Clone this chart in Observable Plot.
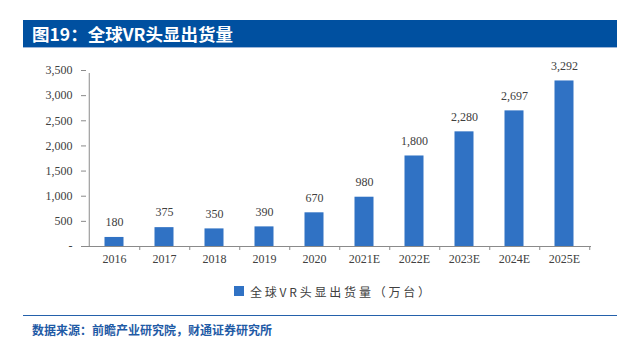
<!DOCTYPE html>
<html>
<head>
<meta charset="utf-8">
<script src="https://cdn.jsdelivr.net/npm/d3@7"></script>
<script src="https://cdn.jsdelivr.net/npm/@observablehq/plot@0.6"></script>
<style>
  html, body { margin: 0; padding: 0; background: #fff; }
  body { width: 627px; height: 352px; position: relative; overflow: hidden; }
  #title {
    position: absolute; left: 23px; top: 20px; width: 594px; height: 27px;
    background: #0050A0; border-bottom: 1px solid #9DB6D8;
    color: #fff; font: bold 17.5px "Noto Sans CJK SC", sans-serif;
    line-height: 27px; box-sizing: content-box;
  }
  #title span { position: absolute; left: 9px; top: 0; }
  #chart { position: absolute; left: 0; top: 55px; }
  #legend {
    position: absolute; left: 234px; top: 283px; height: 16px;
    font: 12px "Noto Sans CJK SC", sans-serif; color: #404040; letter-spacing: 2.8px;
    display: flex; align-items: center; white-space: nowrap;
  }
  #legend .sw { width: 10px; height: 10px; background: #3072C4; margin-right: 6px; }
  #rule { position: absolute; left: 23px; top: 315px; width: 594px; height: 0; border-top: 1.5px solid #2461AB; }
  #source {
    position: absolute; left: 32px; top: 322px;
    font: bold 12px "Noto Sans CJK SC", sans-serif; color: #1F5BA6; line-height: 16px; white-space: nowrap;
  }
</style>
</head>
<body>
<div id="title"><span>图19：全球VR头显出货量</span></div>
<div id="chart"></div>
<div id="legend"><div class="sw"></div><span>全球VR头显出货量（万台）</span></div>
<div id="rule"></div>
<div id="source">数据来源：前瞻产业研究院，财通证券研究所</div>
<script>
const categories = ["2016", "2017", "2018", "2019", "2020", "2021E", "2022E", "2023E", "2024E", "2025E"];
const shipments = [180, 375, 350, 390, 670, 980, 1800, 2280, 2697, 3292];
const yTicks = [0, 500, 1000, 1500, 2000, 2500, 3000, 3500];

const data = categories.map((c, i) => ({year: c, value: shipments[i]}));

const width = 627, height = 220;
const marginLeft = 86, marginRight = 36, marginTop = 15, marginBottom = 29;
const bw = (width - marginLeft - marginRight) / categories.length;
const barW = 19.5;
const inset = (bw - barW) / 2;
const fmt = d3.format(",");
const axisColor = "#8a8a8a";
const textColor = "#404040";

const chart = Plot.plot({
  width, height, marginLeft, marginRight, marginTop, marginBottom,
  style: {fontFamily: "'Liberation Serif', 'Times New Roman', serif", fontSize: "12px", color: textColor, background: "transparent"},
  x: {type: "band", domain: categories, padding: 0, label: null},
  y: {domain: [0, 3500], label: null},
  marks: [
    Plot.barY(data, {x: "year", y: "value", fill: "#3072C4", insetLeft: inset, insetRight: inset}),
    Plot.text(data, {x: "year", y: "value", text: d => fmt(d.value), dy: -15, lineAnchor: "middle",
      fill: textColor, fontSize: 12, fontFamily: "'Liberation Serif', serif"}),
    // y axis line
    Plot.ruleX([categories[0]], {x: d => d, dx: -bw / 2, y1: 0, y2: 3500, stroke: axisColor, insetBottom: -3}),
    // x axis line
    Plot.ruleY([0], {stroke: axisColor}),
    // x boundary ticks
    Plot.ruleX(categories, {x: d => d, dx: bw / 2, y1: 0, y2: 0, insetBottom: -4, stroke: axisColor}),
    Plot.axisY({ticks: yTicks, tickSize: 5, tickPadding: 9, stroke: axisColor, fill: textColor,
      tickFormat: d => d === 0 ? "-" : fmt(d), label: null, fontSize: 12}),
    Plot.axisX({tickSize: 0, tickPadding: 8, fill: textColor, label: null, fontSize: 12})
  ]
});
document.getElementById("chart").appendChild(chart);
</script>
</body>
</html>
